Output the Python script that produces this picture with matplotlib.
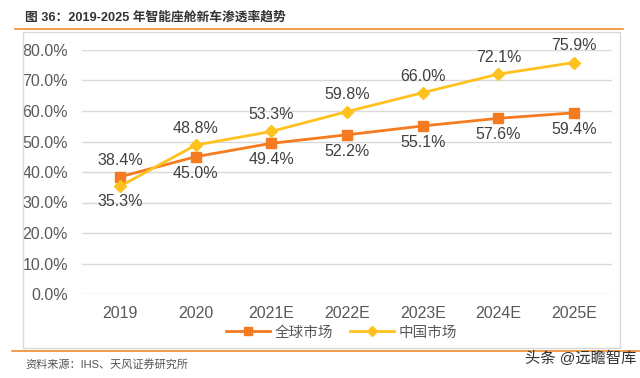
import matplotlib.pyplot as plt
from matplotlib.patches import Rectangle
from matplotlib.lines import Line2D

plt.rcParams["font.family"] = ["Liberation Sans", "Noto Sans CJK SC", "DejaVu Sans"]

years = ["2019", "2020", "2021E", "2022E", "2023E", "2024E", "2025E"]
global_rate = [38.4, 45.0, 49.4, 52.2, 55.1, 57.6, 59.4]
china_rate = [35.3, 48.8, 53.3, 59.8, 66.0, 72.1, 75.9]

orange = "#F47B20"
yellow = "#FFC11E"

fig = plt.figure(figsize=(6.4, 3.78), dpi=100)

# outer frame and orange rules
fig.add_artist(Rectangle((23 / 640, 1 - 348 / 378), 597 / 640, 316 / 378,
                         transform=fig.transFigure, fill=False,
                         edgecolor="#D9D9D9", linewidth=1.0))
fig.add_artist(Line2D([15 / 640, 623 / 640], [1 - 29 / 378] * 2,
                      transform=fig.transFigure, color="#F08A2C", linewidth=1.2))
fig.add_artist(Line2D([12 / 640, 640 / 640], [1 - 351 / 378] * 2,
                      transform=fig.transFigure, color="#F08A2C", linewidth=1.2))

fig.text(25 / 640, 1 - 17 / 378, "图 36：2019-2025 年智能座舱新车渗透率趋势",
         fontsize=9.2, fontweight="bold", color="#333333", va="center")
fig.text(25 / 640, 1 - 364 / 378, "资料来源：IHS、天风证券研究所",
         fontsize=8, color="#555555", va="center")
fig.text(636 / 640, 1 - 358 / 378, "头条 @远瞻智库",
         fontsize=11, color="#333333", va="center", ha="right")

ax = fig.add_axes([82 / 640, 1 - 294 / 378, 530 / 640, 244 / 378])
x = list(range(len(years)))

ax.plot(x, global_rate, color=orange, linewidth=2, marker="s", markersize=7,
        label="全球市场", zorder=3)
ax.plot(x, china_rate, color=yellow, linewidth=2, marker="D", markersize=6,
        label="中国市场", zorder=3)

for i, (g, c) in enumerate(zip(global_rate, china_rate)):
    if i == 0:
        ax.text(i, g + 3.0, f"{g:.1f}%", ha="center", va="bottom", fontsize=11.5,
                color="#404040")
        ax.text(i, c - 2.5, f"{c:.1f}%", ha="center", va="top", fontsize=11.5,
                color="#404040")
    else:
        ax.text(i, g - 3.0, f"{g:.1f}%", ha="center", va="top", fontsize=11.5,
                color="#404040")
        ax.text(i, c + 3.0, f"{c:.1f}%", ha="center", va="bottom", fontsize=11.5,
                color="#404040")

ax.set_xlim(-0.5, len(years) - 0.5)
ax.set_ylim(0, 80)
ax.set_yticks(range(0, 81, 10))
ax.set_yticklabels([f"{v:.1f}%" for v in range(0, 81, 10)])
ax.set_xticks(x)
ax.set_xticklabels(years)
ax.tick_params(axis="both", length=0, labelsize=11.5, colors="#595959")
ax.tick_params(axis="x", pad=9)
ax.tick_params(axis="y", pad=10)
ax.grid(axis="y", color="#D9D9D9", linewidth=1)
ax.set_axisbelow(True)
for s in ax.spines.values():
    s.set_visible(False)

ax.legend(loc="upper center", bbox_to_anchor=(0.49, -0.075), ncol=2,
          frameon=False, fontsize=10.5, handlelength=3, columnspacing=1.2,
          handletextpad=0.3, labelcolor="#595959", markerscale=0.85)

plt.savefig("out.png", dpi=100)
